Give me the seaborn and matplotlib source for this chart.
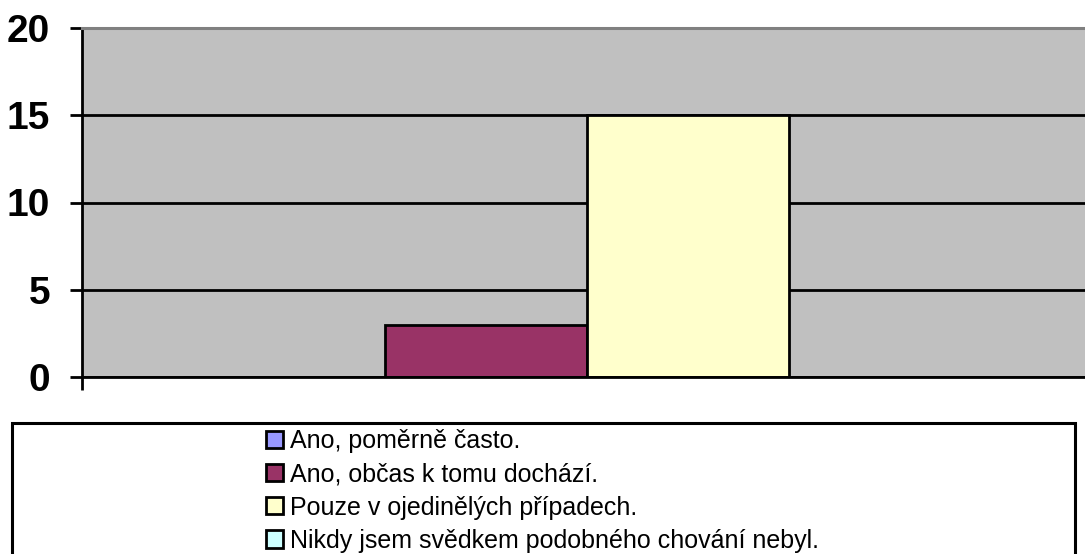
import pandas as pd
import matplotlib
matplotlib.use("Agg")
import matplotlib.pyplot as plt
import matplotlib.patches as mpatches
import seaborn as sns

# answers (series) and their counts
answers = [
    "Ano, poměrně často.",
    "Ano, občas k tomu dochází.",
    "Pouze v ojedinělých případech.",
    "Nikdy jsem svědkem podobného chování nebyl.",
]
counts = [0, 3, 15, 0]
colors = ["#9999FF", "#993366", "#FFFFCC", "#CCFFFF"]
yticks = [0, 5, 10, 15, 20]

df = pd.DataFrame({"group": [""] * len(answers), "answer": answers, "count": counts})

sns.set_style("white")
plt.rcParams["font.family"] = ["Liberation Sans", "DejaVu Sans"]
plt.rcParams["text.color"] = "black"
plt.rcParams["ytick.color"] = "black"
plt.rcParams["xtick.color"] = "black"

W, H = 1085, 554
fig = plt.figure(figsize=(W / 100, H / 100), dpi=100)
ax = fig.add_axes([82 / W, (H - 377) / H, (W - 82) / W, (377 - 28) / H])
ax.set_facecolor("#C0C0C0")
ax.set_axisbelow(True)

sns.barplot(data=df, x="group", y="count", hue="answer", hue_order=answers,
            palette=colors, saturation=1, width=0.8, edgecolor="black",
            linewidth=2, legend=False, ax=ax)

ax.set_xlim(-0.5, 0.493)
ax.set_ylim(0, 20)
ax.set_yticks(yticks)
ax.set_yticklabels([str(v) for v in yticks], fontsize=28, fontweight="bold",
                   color="black")
ax.yaxis.grid(True, color="black", linewidth=2)
ax.set_xticks([-0.5])
ax.set_xticklabels([""])
ax.tick_params(axis="y", length=9, width=2, pad=14, color="black", left=True)
ax.tick_params(axis="x", length=9, width=2, color="black", bottom=True)
ax.set_xlabel("")
ax.set_ylabel("")

for side in ["left", "bottom"]:
    ax.spines[side].set_color("black")
    ax.spines[side].set_linewidth(2)
ax.spines["top"].set_color("#808080")
ax.spines["top"].set_linewidth(2.2)
ax.spines["right"].set_visible(False)

# legend box
box = mpatches.Rectangle((12 / W, -0.1), (1075 - 12) / W, 0.1 + (H - 423) / H,
                         transform=fig.transFigure, facecolor="white",
                         edgecolor="black", linewidth=2.2, clip_on=False)
fig.patches.append(box)

handles = [mpatches.Patch(facecolor=c, edgecolor="black", linewidth=2) for c in colors]
leg = fig.legend(handles, answers, loc="upper left",
                 bbox_to_anchor=(266 / W, (H - 429) / H), frameon=False,
                 fontsize=18, handlelength=0.68, handleheight=0.68,
                 handletextpad=0.28, labelspacing=0.37, borderpad=0,
                 borderaxespad=0)
for t in leg.get_texts():
    t.set_color("black")

fig.savefig("out.png", dpi=100)
